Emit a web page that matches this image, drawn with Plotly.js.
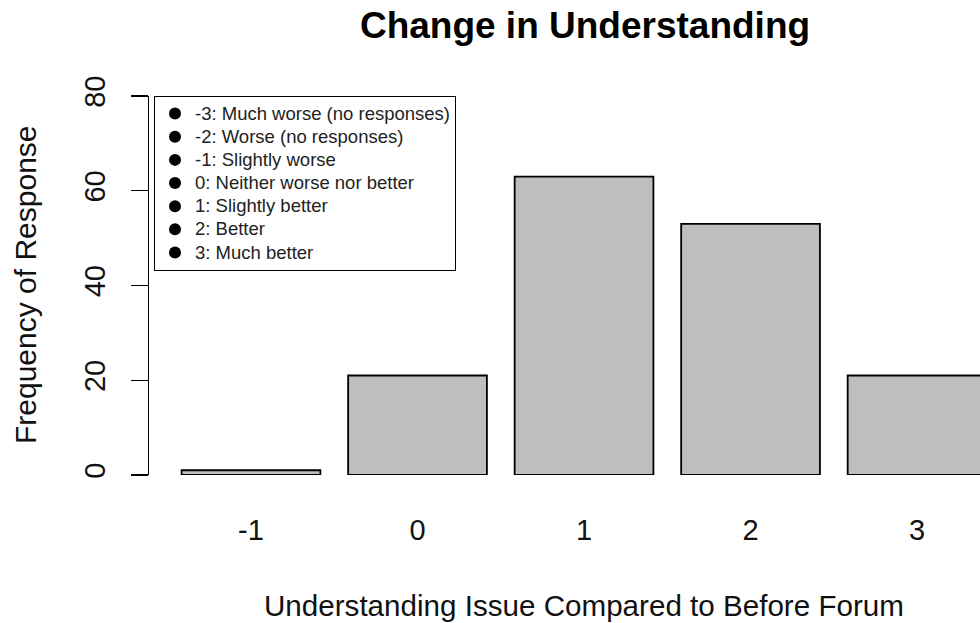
<!DOCTYPE html>
<html>
<head>
<meta charset="utf-8">
<script src="https://cdn.plot.ly/plotly-3.0.1.min.js"></script>
<style>html,body{margin:0;padding:0;background:#fff;}#chart{width:980px;height:623px;}</style>
</head>
<body>
<div id="chart"></div>
<script>
// Data
const categories = [-1, 0, 1, 2, 3];
const frequencies = [1, 21, 63, 53, 21];
const yTicks = [0, 20, 40, 60, 80];
const legendLabels = [
  "-3: Much worse (no responses)",
  "-2: Worse (no responses)",
  "-1: Slightly worse",
  "0: Neither worse nor better",
  "1: Slightly better",
  "2: Better",
  "3: Much better"
];

const FONT = "Liberation Sans, Arial, Helvetica, sans-serif";

const traces = [{
  type: "bar",
  x: categories,
  y: frequencies,
  width: 1 / 1.2,
  marker: { color: "#BEBEBE", line: { color: "#000", width: 1.8 } },
  showlegend: false,
  hoverinfo: "x+y"
}];

legendLabels.forEach(function (lab) {
  traces.push({
    type: "scatter",
    mode: "markers",
    x: [null],
    y: [null],
    name: '<span style="font-size:18.5px">' + lab + '</span>',
    marker: { color: "#000", size: 12, symbol: "circle" },
    showlegend: true
  });
});

const layout = {
  width: 980,
  height: 623,
  paper_bgcolor: "#fff",
  plot_bgcolor: "#fff",
  margin: { l: 149, r: 0, t: 96, b: 148 },
  font: { family: FONT, color: "#111" },
  title: {
    text: "<b>Change in Understanding</b>",
    font: { family: FONT, size: 37, color: "#000" },
    x: 585 / 980, xref: "container", xanchor: "center",
    y: 1 - 25 / 623, yref: "container", yanchor: "middle"
  },
  xaxis: {
    range: [-1.6126, 3.378],
    tickvals: categories,
    ticktext: categories.map(String),
    showline: false,
    showgrid: false,
    zeroline: false,
    ticks: "outside",
    ticklen: 29,
    tickcolor: "rgba(0,0,0,0)",
    tickfont: { family: FONT, size: 29, color: "#111" },
    fixedrange: true
  },
  yaxis: {
    range: [0, 80],
    tickvals: yTicks,
    ticktext: yTicks.map(String),
    showline: true,
    linecolor: "#000",
    linewidth: 1.3,
    showgrid: false,
    zeroline: false,
    ticks: "outside",
    ticklen: 17,
    tickwidth: 1.3,
    tickcolor: "#000",
    tickangle: -90,
    ticklabelstandoff: 14,
    tickfont: { family: FONT, size: 29, color: "#111" },
    fixedrange: true
  },
  legend: {
    x: 5 / 831, xanchor: "left",
    y: 1, yanchor: "top",
    bgcolor: "#fff",
    bordercolor: "#000",
    borderwidth: 1,
    font: { family: FONT, size: 15.5, color: "#222" },
    itemwidth: 30,
    tracegroupgap: 0
  },
  annotations: [
    {
      text: "Understanding Issue Compared to Before Forum",
      xref: "paper", yref: "paper",
      x: (584 - 149) / 831, y: (475 - 605) / 379,
      xanchor: "center", yanchor: "middle",
      showarrow: false,
      font: { family: FONT, size: 29.6, color: "#111" }
    },
    {
      text: "Frequency of Response",
      xref: "paper", yref: "paper",
      x: (25 - 149) / 831, y: (475 - 285) / 379,
      xanchor: "center", yanchor: "middle",
      textangle: -90,
      showarrow: false,
      font: { family: FONT, size: 30, color: "#111" }
    }
  ],
  showlegend: true
};

Plotly.newPlot("chart", traces, layout, { displayModeBar: false, staticPlot: true });
</script>
</body>
</html>
